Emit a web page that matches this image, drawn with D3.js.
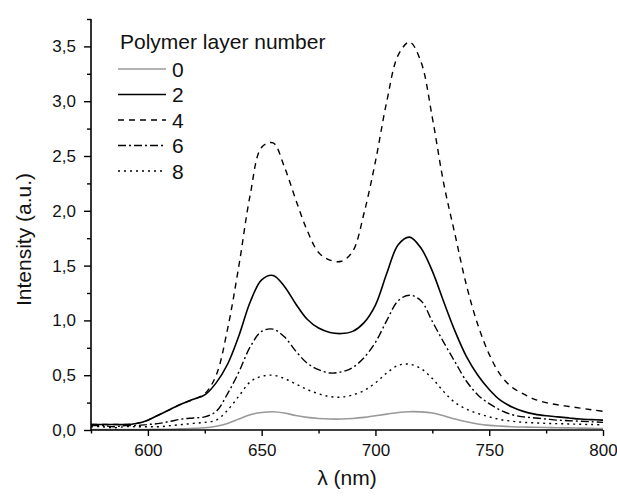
<!DOCTYPE html>
<html>
<head>
<meta charset="utf-8">
<script src="https://cdn.jsdelivr.net/npm/d3@7"></script>
<style>
  html, body { margin: 0; padding: 0; background: #fff; }
  svg { display: block; font-family: "Liberation Sans", Arial, sans-serif; }
</style>
</head>
<body>
<svg id="chart" width="617" height="496"></svg>
<script>
// ---- data ----
const wavelength = [575,580,585,590,595,600,605,610,615,620,625,630,635,640,645,650,655,660,665,670,675,680,685,690,695,700,705,710,715,720,725,730,735,740,745,750,755,760,765,770,775,780,785,790,795,800];

const layer0 = [0.005,0.005,0.004,0.005,0.005,0.005,0.006,0.007,0.010,0.015,0.020,0.035,0.060,0.100,0.140,0.160,0.167,0.155,0.132,0.115,0.105,0.100,0.100,0.105,0.115,0.130,0.145,0.160,0.167,0.165,0.155,0.130,0.100,0.075,0.055,0.042,0.035,0.030,0.027,0.025,0.023,0.021,0.019,0.017,0.015,0.013];
const layer2 = [0.05,0.05,0.05,0.05,0.06,0.09,0.14,0.19,0.24,0.28,0.32,0.43,0.60,0.86,1.17,1.37,1.41,1.31,1.15,1.01,0.93,0.89,0.88,0.90,0.98,1.14,1.43,1.69,1.76,1.66,1.45,1.17,0.90,0.67,0.50,0.37,0.27,0.21,0.17,0.145,0.13,0.12,0.11,0.10,0.095,0.09];
const layer4 = [0.05,0.05,0.05,0.05,0.06,0.09,0.14,0.19,0.24,0.28,0.33,0.50,0.92,1.50,2.15,2.58,2.62,2.40,2.10,1.82,1.62,1.55,1.54,1.63,1.98,2.45,3.00,3.42,3.54,3.36,2.85,2.25,1.78,1.32,0.96,0.69,0.50,0.39,0.33,0.28,0.25,0.23,0.215,0.20,0.185,0.17];
const layer6 = [0.04,0.04,0.03,0.04,0.04,0.05,0.06,0.08,0.10,0.11,0.12,0.17,0.33,0.53,0.76,0.90,0.92,0.85,0.72,0.61,0.55,0.52,0.53,0.57,0.66,0.80,1.00,1.18,1.23,1.18,0.99,0.80,0.62,0.445,0.32,0.24,0.18,0.14,0.12,0.11,0.10,0.09,0.085,0.08,0.075,0.07];
const layer8 = [0.03,0.03,0.02,0.03,0.03,0.03,0.03,0.04,0.05,0.06,0.07,0.09,0.18,0.31,0.44,0.49,0.50,0.47,0.42,0.37,0.33,0.305,0.30,0.32,0.36,0.43,0.52,0.59,0.60,0.56,0.47,0.35,0.25,0.19,0.15,0.12,0.095,0.08,0.07,0.065,0.06,0.058,0.055,0.052,0.05,0.047];

const seriesNames = ["0","2","4","6","8"];
const seriesValues = [layer0, layer2, layer4, layer6, layer8];

const xMajorTicks = [600,650,700,750,800];
const xMinorTicks = [575,625,675,725,775];
const yMajorTicks = [0,0.5,1.0,1.5,2.0,2.5,3.0,3.5];
const yMinorTicks = [0.25,0.75,1.25,1.75,2.25,2.75,3.25,3.75];

const legendTitle = "Polymer layer number";
const xTitle = "λ (nm)";
const yTitle = "Intensity (a.u.)";

// ---- styles ----
const styles = [
  {stroke:"#999999", dash:null, width:1.6},
  {stroke:"#000000", dash:null, width:1.6},
  {stroke:"#000000", dash:"6,5", width:1.4},
  {stroke:"#000000", dash:"8,3,2,3", width:1.4},
  {stroke:"#000000", dash:"2,4", width:1.4}
];

const svg = d3.select("#chart");
const mLeft = 91, mRight = 603, mTop = 19, mBottom = 430;

const x = d3.scaleLinear().domain([575, 800]).range([mLeft, mRight]);
const y = d3.scaleLinear().domain([0, 3.75]).range([mBottom, mTop]);

const fmt = d => d3.format(".1f")(d).replace(".", ",");

// curves
const line = d3.line().x((d,i) => x(wavelength[i])).y(d => y(d)).curve(d3.curveCatmullRom.alpha(0.5));
const plot = svg.append("g");
seriesValues.forEach((vals, k) => {
  plot.append("path")
    .datum(vals)
    .attr("d", line)
    .attr("fill", "none")
    .attr("stroke", styles[k].stroke)
    .attr("stroke-width", styles[k].width)
    .attr("stroke-dasharray", styles[k].dash)
    .attr("stroke-linejoin", "round");
});

// x axis
const xAxisMajor = d3.axisBottom(x).tickValues(xMajorTicks).tickSize(6).tickPadding(8).tickFormat(d3.format("d"));
const xAxisMinor = d3.axisBottom(x).tickValues(xMinorTicks).tickSize(3.5).tickFormat("");
const gxMinor = svg.append("g").attr("transform", `translate(0,${mBottom})`).call(xAxisMinor);
const gx = svg.append("g").attr("transform", `translate(0,${mBottom})`).call(xAxisMajor);
// y axis
const yAxisMajor = d3.axisLeft(y).tickValues(yMajorTicks).tickSize(7).tickPadding(8).tickFormat(fmt);
const yAxisMinor = d3.axisLeft(y).tickValues(yMinorTicks).tickSize(4).tickFormat("");
const gyMinor = svg.append("g").attr("transform", `translate(${mLeft},0)`).call(yAxisMinor);
const gy = svg.append("g").attr("transform", `translate(${mLeft},0)`).call(yAxisMajor);

[gx, gy, gxMinor, gyMinor].forEach(g => {
  g.selectAll(".domain").attr("stroke", "#000").attr("stroke-width", 1.6);
  g.selectAll(".tick line").attr("stroke", "#000").attr("stroke-width", 1.4);
  g.selectAll(".tick text").attr("fill", "#111").style("font-size", "17px").style("font-family", "'Liberation Sans', Arial, sans-serif");
});
gy.select(".domain").attr("d", `M0,${mBottom}V${mTop}`);
gx.select(".domain").attr("d", `M${mLeft},0H${mRight}`);
gxMinor.select(".domain").remove();
gyMinor.select(".domain").remove();

// axis titles
svg.append("text")
  .attr("x", (mLeft + mRight) / 2).attr("y", 485)
  .attr("text-anchor", "middle")
  .style("font-size", "21px").attr("fill", "#111")
  .text(xTitle);
svg.append("text")
  .attr("transform", `translate(31,${(mTop + mBottom) / 2 + 15}) rotate(-90)`)
  .attr("text-anchor", "middle")
  .style("font-size", "21px").attr("fill", "#111")
  .text(yTitle);

// legend
const lg = svg.append("g");
lg.append("text").attr("x", 120).attr("y", 49).style("font-size", "21px").attr("fill", "#111").text(legendTitle);
seriesNames.forEach((name, k) => {
  const cy = 69 + k * 25.5;
  lg.append("line")
    .attr("x1", 118).attr("x2", 166).attr("y1", cy).attr("y2", cy)
    .attr("stroke", styles[k].stroke)
    .attr("stroke-width", styles[k].width)
    .attr("stroke-dasharray", styles[k].dash);
  lg.append("text").attr("x", 172).attr("y", cy + 7.5).style("font-size", "21px").attr("fill", "#111").text(name);
});
</script>
</body>
</html>
